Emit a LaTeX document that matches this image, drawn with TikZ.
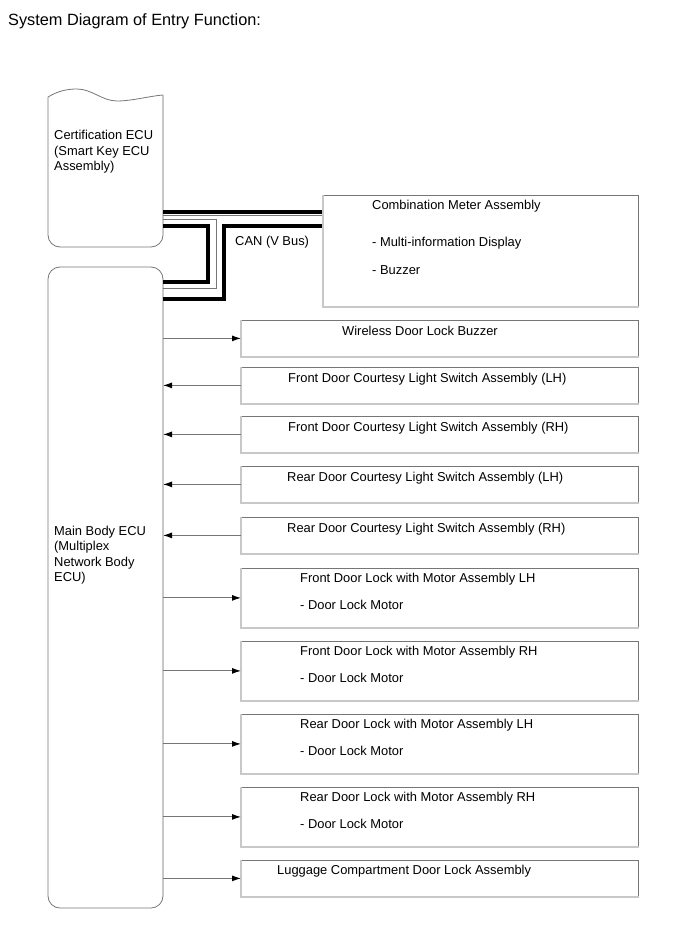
\documentclass[tikz,border=0pt]{standalone}
\usepackage{fontspec}
\setmainfont{Liberation Sans}
\usetikzlibrary{arrows.meta}
\definecolor{edgegray}{RGB}{118,118,118}
\definecolor{lightedge}{RGB}{200,200,200}
\begin{document}
\begin{tikzpicture}[x=1pt,y=-1pt,
  txt/.style={inner sep=0pt, anchor=west, font=\fontsize{12.9}{15.5}\selectfont, text height=9.3pt, text depth=2.7pt},
  mtxt/.style={inner sep=0pt, anchor=north west, align=left, font=\fontsize{12.9}{15.5}\selectfont},
  box/.style={draw=edgegray, line width=0.8pt, inner sep=0pt, anchor=north west, minimum width=397pt},
  onebox/.style={box, minimum height=36pt},
  twobox/.style={box, minimum height=59pt},
  shadowedge/.style={draw=lightedge, line width=2pt},
  sig/.style={draw=edgegray, line width=1pt, -{Latex[length=9pt,width=6pt,color=black]}},
  busthick/.style={draw=black, line width=3.5pt},
  busthin/.style={draw=edgegray, line width=1pt}
]
\useasboundingbox (0,0) rectangle (690,952);

% title
\node[inner sep=0pt, anchor=west, font=\fontsize{16.3}{19}\selectfont] (title) at (8,21) {System Diagram of Entry Function:};

% Certification ECU (document shape with wavy top)
\node[inner sep=0pt, outer sep=0pt, minimum width=115pt, minimum height=157pt, anchor=north west] (cert) at (48,90) {};
\draw[edgegray, line width=0.8pt, rounded corners=12pt]
  (163,95) -- (163,247) -- (48,247) -- (48,97);
\draw[edgegray, line width=0.8pt]
  (48,97) .. controls (58,91) and (67,89) .. (77,89)
  .. controls (92,89) and (102,101) .. (117,101)
  .. controls (132,101) and (150,96) .. (163,95);
\draw[shadowedge] (163,96) -- (163,236);
\node[mtxt] (certtxt) at (54,130) {Certification ECU\\(Smart Key ECU\\Assembly)};

% Main Body ECU
\node[draw=edgegray, line width=0.8pt, rounded corners=12pt, inner sep=0pt, outer sep=0pt,
      minimum width=115pt, minimum height=641pt, anchor=north west] (ecu) at (48,267) {};
\draw[shadowedge] (ecu.north east) ++(0,12) -- ([yshift=12pt]ecu.south east);
\node[mtxt] (ecutxt) at (54,525.5) {Main Body ECU\\(Multiplex\\Network Body\\ECU)};

% Combination meter
\node[box, minimum width=315pt, minimum height=111pt] (meter) at (323,195) {};
\node[txt] (m1) at (372,206) {Combination Meter Assembly};
\node[txt] (m2) at (372,243) {- Multi-information Display};
\node[txt] (m3) at (372,271) {- Buzzer};
\node[txt] (can) at (235,242) {CAN (V Bus)};

% CAN bus
\coordinate (ya) at (0,212);
\coordinate (yb) at (0,215.5);
\coordinate (yc) at (0,219.5);
\coordinate (yd) at (0,226);
\coordinate (va) at (208,282);
\coordinate (vb) at (216,288);
\coordinate (vc) at (224,299);
\draw[busthick] (cert.east |- ya) -- (meter.west |- ya);
\draw[busthin] (cert.east |- yb) -- (meter.west |- yb);
\draw[busthin] (cert.east |- yc) -| (vb) -- (ecu.east |- vb);
\draw[busthick] (cert.east |- yd) -| (va) -- (ecu.east |- va);
\draw[busthick] (meter.west |- yd) -| (vc) -- (ecu.east |- vc);

% right-hand boxes
\node[onebox] (wl) at (241,320) {};
\node[onebox] (fl) at (241,367) {};
\node[onebox] (fr) at (241,416) {};
\node[onebox] (rl) at (241,466) {};
\node[onebox] (rr) at (241,517) {};
\node[twobox] (dfl) at (241,568) {};
\node[twobox] (dfr) at (241,641) {};
\node[twobox] (drl) at (241,714) {};
\node[twobox] (drr) at (241,787) {};
\node[onebox] (lug) at (241,860) {};

\foreach \n in {meter,wl,fl,fr,rl,rr,dfl,dfr,drl,drr,lug}
  \draw[shadowedge] (\n.north west) -- (\n.south west) -- (\n.south east);

% texts
\node[txt] (t1) at (342,332) {Wireless Door Lock Buzzer};
\node[txt] (t2) at (288,379) {Front Door Courtesy Light Switch Assembly (LH)};
\node[txt] (t3) at (288,428) {Front Door Courtesy Light Switch Assembly (RH)};
\node[txt] (t4) at (287,478) {Rear Door Courtesy Light Switch Assembly (LH)};
\node[txt] (t5) at (287,529) {Rear Door Courtesy Light Switch Assembly (RH)};
\node[txt] (t6) at (300,579) {Front Door Lock with Motor Assembly LH};
\node[txt] (t6b) at (300,606) {- Door Lock Motor};
\node[txt] (t7) at (300,652) {Front Door Lock with Motor Assembly RH};
\node[txt] (t7b) at (300,679) {- Door Lock Motor};
\node[txt] (t8) at (300,725) {Rear Door Lock with Motor Assembly LH};
\node[txt] (t8b) at (300,752) {- Door Lock Motor};
\node[txt] (t9) at (300,798) {Rear Door Lock with Motor Assembly RH};
\node[txt] (t9b) at (300,825) {- Door Lock Motor};
\node[txt] (t10) at (277,871) {Luggage Compartment Door Lock Assembly};

% signal arrows
\draw[sig] (ecu.east |- wl.west) -- (wl.west);
\draw[sig] (fl.west) -- (ecu.east |- fl.west);
\draw[sig] (fr.west) -- (ecu.east |- fr.west);
\draw[sig] (rl.west) -- (ecu.east |- rl.west);
\draw[sig] (rr.west) -- (ecu.east |- rr.west);
\draw[sig] (ecu.east |- dfl.west) -- (dfl.west);
\draw[sig] (ecu.east |- dfr.west) -- (dfr.west);
\draw[sig] (ecu.east |- drl.west) -- (drl.west);
\draw[sig] (ecu.east |- drr.west) -- (drr.west);
\draw[sig] (ecu.east |- lug.west) -- (lug.west);
\end{tikzpicture}
\end{document}
